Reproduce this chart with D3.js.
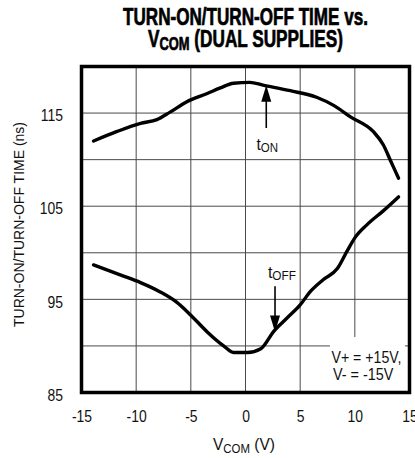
<!DOCTYPE html>
<html>
<head>
<meta charset="utf-8">
<script src="https://cdn.jsdelivr.net/npm/d3@7"></script>
<style>
body{margin:0;background:#fff;}
svg{display:block;}
text{font-family:"Liberation Sans",Arial,sans-serif;fill:#111;}
.title{font-weight:bold;font-size:24px;fill:#000;stroke:#000;stroke-width:0.7;}
.tick text{font-size:17px;font-family:"Liberation Sans",Arial,sans-serif;}
.grid line{stroke:#4a4a4a;stroke-width:1;}
.curve{fill:none;stroke:#000;stroke-width:3.4;stroke-linejoin:round;stroke-linecap:round;}
</style>
</head>
<body>
<div id="chart"></div>
<script>
// values
var vcom_on=[-13.9,-11.8,-9.6,-8.1,-6.9,-5.4,-3.5,-2.3,-1.1,0.4,1.6,4.1,6.5,8.1,9.6,11.7,12.6,13.3,14.0];
var t_on=[112.0,113.0,113.9,114.3,115.1,116.2,117.1,117.7,118.2,118.3,118.0,117.4,116.7,115.8,114.6,113.0,111.6,109.8,108.0];
var vcom_off=[-13.9,-11.4,-9.6,-7.8,-6.3,-5.0,-3.5,-2.0,-1.1,0.2,1.4,2.6,3.8,5.0,5.9,7.1,8.4,9.3,10.0,11.1,12.6,14.0];
var t_off=[98.7,97.6,96.8,95.8,94.7,93.3,91.5,90.0,89.3,89.3,89.7,91.6,93.0,94.4,95.8,97.1,98.3,100.2,101.6,103.0,104.5,106.0];
var x_ticks=[-15,-10,-5,0,5,10,15];
var y_ticks=[85,95,105,115];
var y_grid=[90,95,100,105,110,115];
var x_grid=[-10,-5,0,5,10];

var W=415,H=458;
var L=81.5,R=409.5,T=66.5,B=392.5;
var NARROW=0.82;

var svg=d3.select("#chart").append("svg").attr("width",W).attr("height",H);

var x=d3.scaleLinear().domain([-15,15]).range([L,R]);
var y=d3.scaleLinear().domain([85,120]).range([B,T]);

// horizontal squeeze about ox
function squeeze(sel,k,ox){
	sel.attr("transform","translate("+ox+",0) scale("+k+",1) translate("+(-ox)+",0)");
}
// squeeze/stretch a text element to a measured width
function fit(sel,target,ox){
	var w=sel.node().getBBox().width;
	squeeze(sel,target/w,ox);
}

//***************************
//TITLE
//***************************
var t1=svg.append("text").attr("class","title")
	.attr("x",245.5).attr("y",25).attr("text-anchor","middle")
	.text("TURN-ON/TURN-OFF TIME vs.");
fit(t1,245,245.5);
var t2=svg.append("text").attr("class","title")
	.attr("x",245.5).attr("y",47).attr("text-anchor","middle");
t2.append("tspan").text("V");
t2.append("tspan").attr("dy",3).style("font-size","18px").text("COM");
t2.append("tspan").attr("dy",-3).text(" (DUAL SUPPLIES)");
fit(t2,195,245.5);

//***************************
//GRID
//***************************
svg.append("g").attr("class","grid")
	.selectAll("line.h").data(y_grid).enter().append("line")
	.attr("x1",L).attr("x2",R)
	.attr("y1",function(d){return y(d);}).attr("y2",function(d){return y(d);});
svg.append("g").attr("class","grid")
	.selectAll("line.v").data(x_grid).enter().append("line")
	.attr("y1",T).attr("y2",B)
	.attr("x1",function(d){return x(d);}).attr("x2",function(d){return x(d);});

//***************************
//AXES LABELS
//***************************
var fmt=function(d){return String(d);};   // plain hyphen, as in the reference
var yAxis=d3.axisLeft(y).tickValues(y_ticks).tickSize(0).tickPadding(18.5).tickFormat(fmt);
var gy=svg.append("g").attr("transform","translate("+L+",0)").call(yAxis);
gy.select(".domain").remove();
gy.selectAll("text").attr("dy","0.45em").each(function(){squeeze(d3.select(this),NARROW,-18.5);});

var xAxis=d3.axisBottom(x).tickValues(x_ticks).tickSize(0).tickPadding(17.5).tickFormat(fmt);
var gx=svg.append("g").attr("transform","translate(0,"+B+")").call(xAxis);
gx.select(".domain").remove();
gx.selectAll("text").each(function(){squeeze(d3.select(this),NARROW,0);});

var ytitle=svg.append("text")
	.attr("transform","translate(24,224.5) rotate(-90)")
	.attr("text-anchor","middle")
	.style("font-size","14px")
	.text("TURN-ON/TURN-OFF TIME (ns)");

var xt=svg.append("text").attr("x",213).attr("y",450).style("font-size","17px");
xt.append("tspan").text("V");
xt.append("tspan").attr("dy",3).style("font-size","12.5px").text("COM");
xt.append("tspan").attr("dy",-3).text(" (V)");
fit(xt,62,213);

//***************************
//LINES
//***************************
var line=d3.line()
	.x(function(d){return x(d[0]);})
	.y(function(d){return y(d[1]);})
	.curve(d3.curveMonotoneX);

svg.append("path").attr("class","curve")
	.attr("d",line(d3.zip(vcom_on,t_on)));
svg.append("path").attr("class","curve")
	.attr("d",line(d3.zip(vcom_off,t_off)));

//***************************
//ANNOTATIONS
//***************************
function arrow(v,t_from,t_to){
	var xp=x(v),y0=y(t_from),y1=y(t_to);
	var dir=y1<y0?1:-1;
	svg.append("line").attr("x1",xp).attr("x2",xp)
		.attr("y1",y0).attr("y2",y1+dir*12)
		.attr("stroke","#000").attr("stroke-width",1.6);
	svg.append("path")
		.attr("d","M"+xp+","+y1+"L"+(xp-5)+","+(y1+dir*16.5)+"L"+(xp+5)+","+(y1+dir*16.5)+"Z")
		.attr("fill","#000");
}
arrow(1.9,113.4,118.0);
arrow(2.7,96.4,91.5);

function sublabel(v,t,main,sub,wid){
	var tx=svg.append("text").attr("x",x(v)).attr("y",y(t)).style("font-size","17px");
	tx.append("tspan").text(main);
	tx.append("tspan").attr("dy",2).style("font-size","12.5px").text(sub);
	fit(tx,wid,x(v));
	return tx;
}
sublabel(1.0,111.0,"t","ON",21.6);
sublabel(2.05,97.3,"t","OFF",28.4);

// legend box covers the grid
svg.append("rect")
	.attr("x",330).attr("y",337).attr("width",75).attr("height",54)
	.attr("fill","#fff");
var lg1=svg.append("text").attr("x",331.5).attr("y",363.5).style("font-size","17px").text("V+ = +15V,");
fit(lg1,70,331.5);
var lg2=svg.append("text").attr("x",333).attr("y",380.5).style("font-size","17px").text("V- = -15V");
fit(lg2,61,333);

//***************************
//FRAME
//***************************
svg.append("rect")
	.attr("x",L).attr("y",T).attr("width",R-L).attr("height",B-T)
	.attr("fill","none").attr("stroke","#000").attr("stroke-width",3.5);
</script>
</body>
</html>
